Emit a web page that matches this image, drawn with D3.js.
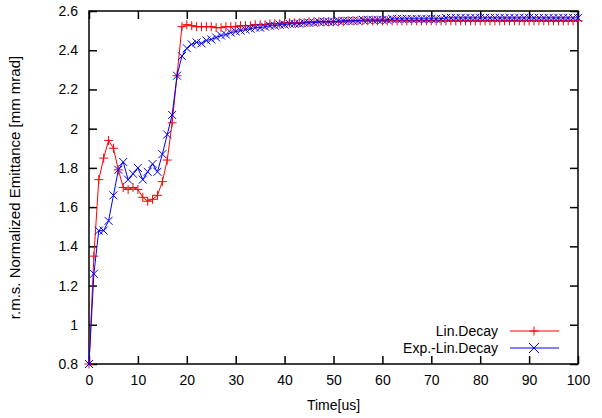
<!DOCTYPE html>
<html>
<head>
<meta charset="utf-8">
<script src="https://cdn.jsdelivr.net/npm/d3@7"></script>
<style>
  body { margin: 0; background: #fff; }
  svg { font-family: "Liberation Sans", Arial, sans-serif; }
</style>
</head>
<body>
<svg id="svg"></svg>
<script>
const width = 602;
const height = 418;

// time axis, one sample per microsecond
const times = d3.range(0, 101);

const linDecay = [
    0.80, 1.35, 1.74, 1.85, 1.94, 1.90, 1.79, 1.70, 1.69, 1.70,
    1.69, 1.65, 1.63, 1.64, 1.66, 1.73, 1.84, 2.03, 2.27, 2.52,
    2.53, 2.525, 2.52, 2.52, 2.52, 2.52, 2.515, 2.515, 2.52, 2.52,
    2.52, 2.525, 2.525, 2.525, 2.53, 2.53, 2.53, 2.535, 2.535, 2.535,
    2.54, 2.54, 2.54, 2.54, 2.54, 2.545, 2.545, 2.545, 2.545, 2.545,
    2.545, 2.545, 2.545, 2.55, 2.55, 2.55, 2.55, 2.55, 2.55, 2.55,
    2.55, 2.55, 2.55, 2.55, 2.55, 2.55, 2.55, 2.55, 2.55, 2.55,
    2.55, 2.55, 2.55, 2.55, 2.55, 2.55, 2.55, 2.55, 2.55, 2.55,
    2.55, 2.55, 2.55, 2.55, 2.55, 2.55, 2.55, 2.55, 2.55, 2.55,
    2.55, 2.55, 2.55, 2.55, 2.55, 2.55, 2.55, 2.55, 2.55, 2.55,
    2.55
];

const expLinDecay = [
    0.80, 1.26, 1.48, 1.48, 1.53, 1.66, 1.79, 1.83, 1.74, 1.77,
    1.80, 1.74, 1.78, 1.82, 1.78, 1.87, 1.97, 2.07, 2.27, 2.37,
    2.41, 2.43, 2.44, 2.435, 2.45, 2.455, 2.465, 2.475, 2.48, 2.49,
    2.495, 2.50, 2.505, 2.51, 2.515, 2.515, 2.52, 2.525, 2.525, 2.53,
    2.53, 2.535, 2.535, 2.535, 2.54, 2.54, 2.54, 2.545, 2.545, 2.545,
    2.545, 2.55, 2.55, 2.55, 2.55, 2.55, 2.555, 2.555, 2.555, 2.555,
    2.555, 2.555, 2.56, 2.56, 2.56, 2.56, 2.56, 2.56, 2.56, 2.56,
    2.56, 2.56, 2.56, 2.565, 2.565, 2.565, 2.565, 2.565, 2.565, 2.565,
    2.565, 2.565, 2.565, 2.565, 2.565, 2.565, 2.565, 2.565, 2.565, 2.565,
    2.565, 2.565, 2.565, 2.565, 2.565, 2.565, 2.565, 2.565, 2.565, 2.565,
    2.565
];

const xTicks = [0, 10, 20, 30, 40, 50, 60, 70, 80, 90, 100];
const yTicks = [0.8, 1, 1.2, 1.4, 1.6, 1.8, 2, 2.2, 2.4, 2.6];

const series = [
    { name: "Lin.Decay", values: linDecay, colour: "#ff0000", marker: "plus" },
    { name: "Exp.-Lin.Decay", values: expLinDecay, colour: "#0000ff", marker: "cross" }
];

let svg = d3.select("#svg").attr("width", width).attr("height", height);

const margin = { top: 11, right: 24, bottom: 54, left: 89 };
const chartWidth = width - margin.left - margin.right;
const chartHeight = height - margin.top - margin.bottom;

const chart = svg.append("g")
    .attr("transform", `translate(${margin.left},${margin.top})`);

const xScale = d3.scaleLinear().domain([0, 100]).range([0, chartWidth]);
const yScale = d3.scaleLinear().domain([0.8, 2.6]).range([chartHeight, 0]);

const tickLen = 8;

// bottom & left axes with labels, ticks pointing inward
chart.append("g")
    .attr("transform", `translate(0,${chartHeight})`)
    .call(d3.axisBottom(xScale).tickValues(xTicks).tickSizeInner(-tickLen).tickSizeOuter(0).tickPadding(11).tickFormat(d3.format("d")))
    .call(g => g.select(".domain").remove());

chart.append("g")
    .call(d3.axisLeft(yScale).tickValues(yTicks).tickSizeInner(-tickLen).tickSizeOuter(0).tickPadding(11).tickFormat(d => String(+d.toFixed(1))))
    .call(g => g.select(".domain").remove());

// mirrored ticks on top & right
chart.append("g")
    .call(d3.axisTop(xScale).tickValues(xTicks).tickSizeInner(-tickLen).tickSizeOuter(0).tickFormat(""))
    .call(g => g.select(".domain").remove());

chart.append("g")
    .attr("transform", `translate(${chartWidth},0)`)
    .call(d3.axisRight(yScale).tickValues(yTicks).tickSizeInner(-tickLen).tickSizeOuter(0).tickFormat(""))
    .call(g => g.select(".domain").remove());

chart.selectAll(".tick line").attr("stroke", "#000").attr("stroke-width", 1.5);
chart.selectAll(".tick text").attr("font-size", 14).attr("fill", "#000")
    .attr("font-family", "Liberation Sans, Arial, sans-serif");

// plot border
chart.append("rect")
    .attr("width", chartWidth)
    .attr("height", chartHeight)
    .attr("fill", "none")
    .attr("stroke", "#000")
    .attr("stroke-width", 1.5);

function markerPath(type, s) {
    if (type === "plus") return `M${-s},0H${s}M0,${-s}V${s}`;
    return `M${-s},${-s}L${s},${s}M${-s},${s}L${s},${-s}`;
}

const line = d3.line()
    .x((d, i) => xScale(times[i]))
    .y(d => yScale(d));

series.forEach(s => {
    chart.append("path")
        .datum(s.values)
        .attr("fill", "none")
        .attr("stroke", s.colour)
        .attr("stroke-width", 1)
        .attr("d", line);

    chart.selectAll(null)
        .data(s.values)
        .enter().append("path")
        .attr("transform", (d, i) => `translate(${xScale(times[i])},${yScale(d)})`)
        .attr("d", markerPath(s.marker, s.marker === "plus" ? 4.5 : 4))
        .attr("fill", "none")
        .attr("stroke", s.colour)
        .attr("stroke-width", 1);
});

// legend
const legend = chart.append("g");
series.forEach((s, i) => {
    const ly = 331 - margin.top + i * 17;
    legend.append("text")
        .attr("x", 498 - margin.left)
        .attr("y", ly)
        .attr("dy", "0.35em")
        .attr("text-anchor", "end")
        .attr("font-size", 14)
        .text(s.name);
    legend.append("line")
        .attr("x1", 510 - margin.left)
        .attr("x2", 559 - margin.left)
        .attr("y1", ly)
        .attr("y2", ly)
        .attr("stroke", s.colour)
        .attr("stroke-width", 1);
    legend.append("path")
        .attr("transform", `translate(${534 - margin.left},${ly})`)
        .attr("d", markerPath(s.marker, s.marker === "plus" ? 4.5 : 5))
        .attr("fill", "none")
        .attr("stroke", s.colour)
        .attr("stroke-width", 1);
});

// axis titles
svg.append("text")
    .attr("x", margin.left + chartWidth / 2)
    .attr("y", 410)
    .attr("text-anchor", "middle")
    .attr("font-size", 14)
    .text("Time[us]");

svg.append("text")
    .attr("transform", `translate(15,${margin.top + chartHeight / 2}) rotate(-90)`)
    .attr("text-anchor", "middle")
    .attr("dy", "0.35em")
    .attr("font-size", 15)
    .text("r.m.s. Normalized Emittance [mm mrad]");
</script>
</body>
</html>
